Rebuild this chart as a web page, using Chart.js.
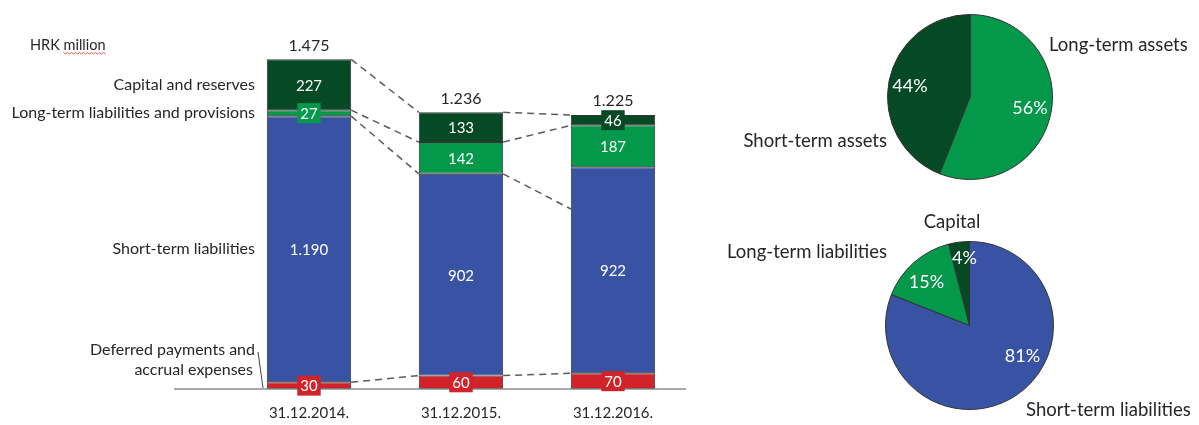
<!DOCTYPE html>
<html>
<head>
<meta charset="utf-8">
<script src="https://cdn.jsdelivr.net/npm/chart.js@4.4.1/dist/chart.umd.min.js"></script>
<style>
  body { margin: 0; background: #fff; }
  #wrap { position: relative; width: 1199px; height: 425px; overflow: hidden; }
  canvas { position: absolute; }
</style>
</head>
<body>
<div id="wrap">
  <canvas id="barChart" style="left:0;top:0;width:700px;height:425px"></canvas>
  <canvas id="assetsPie" style="left:700px;top:0;width:499px;height:212px"></canvas>
  <canvas id="liabPie" style="left:700px;top:212px;width:499px;height:213px"></canvas>
</div>
<script>
const dates = ["31.12.2014.", "31.12.2015.", "31.12.2016."];
const seriesNames = [
  "Deferred payments and accrual expenses",
  "Short-term liabilities",
  "Long-term liabilities and provisions",
  "Capital and reserves",
];
const deferred = [30, 60, 70];
const shortTerm = [1190, 902, 922];
const longTerm = [27, 142, 187];
const capital = [227, 133, 46];
const totals = [1475, 1236, 1225];
// where the dashed short-term line lands on the next bar (as drawn in the original)
const shortTermLinkEnd = [962, 805];

const assetLabels = ["Long-term assets", "Short-term assets"];
const assetShares = [56, 44];
const liabLabels = ["Short-term liabilities", "Long-term liabilities", "Capital"];
const liabShares = [81, 15, 4];

const darkGreen = "#054a25";
const green = "#03984a";
const blue = "#3953a4";
const red = "#d2232a";
const edge = "#333333";
const textColor = "#262626";
const FONT = "Lato, 'Open Sans', sans-serif";

function fmt(n) {
  return n.toString().replace(/\B(?=(\d{3})+(?!\d))/g, ".");
}

const seriesValues = [deferred, shortTerm, longTerm, capital];
const seriesColors = [red, blue, green, darkGreen];
// small segments get a coloured box behind their label
const boxed = [true, false, false, false];

const barOverlay = {
  id: "barOverlay",
  afterDatasetsDraw(chart) {
    const ctx = chart.ctx;
    const y = chart.scales.y;
    const metas = chart.data.datasets.map((d, i) => chart.getDatasetMeta(i));

    // cumulative tops per bar
    const cum = dates.map((d, i) => {
      let s = 0;
      return seriesValues.map((arr) => (s += arr[i]));
    });

    ctx.save();
    // dashed connectors
    ctx.strokeStyle = "#5a5a5a";
    ctx.lineWidth = 1.5;
    ctx.setLineDash([7, 5]);
    for (let i = 0; i < dates.length - 1; i++) {
      const b1 = metas[0].data[i];
      const b2 = metas[0].data[i + 1];
      const x1 = b1.x + b1.width / 2;
      const x2 = b2.x - b2.width / 2;
      for (let lvl = 0; lvl < 4; lvl++) {
        let v2 = cum[i + 1][lvl];
        if (lvl === 1) v2 = shortTermLinkEnd[i];
        ctx.beginPath();
        ctx.moveTo(x1, y.getPixelForValue(cum[i][lvl]));
        ctx.lineTo(x2, y.getPixelForValue(v2));
        ctx.stroke();
      }
    }
    ctx.setLineDash([]);

    // baseline
    const base = y.getPixelForValue(0);
    ctx.strokeStyle = "#8c8c8c";
    ctx.lineWidth = 1.5;
    ctx.beginPath();
    ctx.moveTo(174, base);
    ctx.lineTo(686, base);
    ctx.stroke();

    // segment labels
    ctx.textAlign = "center";
    ctx.textBaseline = "middle";
    ctx.font = "15px " + FONT;
    seriesValues.forEach((arr, s) => {
      metas[s].data.forEach((bar, i) => {
        const cy = (bar.y + bar.base) / 2;
        const txt = fmt(arr[i]);
        const small = Math.abs(bar.base - bar.y) < 16;
        if (small || boxed[s]) {
          const w = ctx.measureText(txt).width + 6;
          ctx.fillStyle = seriesColors[s];
          ctx.fillRect(bar.x - w / 2, cy - 10, w, 20);
        }
        ctx.fillStyle = "#ffffff";
        ctx.fillText(txt, bar.x, cy + 1);
      });
    });

    // totals
    ctx.fillStyle = textColor;
    ctx.font = "16px " + FONT;
    totals.forEach((t, i) => {
      const bar = metas[0].data[i];
      ctx.fillText(fmt(t), bar.x, y.getPixelForValue(cum[i][3]) - 14);
    });

    // dates
    ctx.font = "15px " + FONT;
    dates.forEach((d, i) => {
      ctx.fillText(d, metas[0].data[i].x, 413);
    });

    // series names next to the first bar
    ctx.textAlign = "right";
    ctx.font = "16px " + FONT;
    for (let s = 1; s < 4; s++) {
      const bar = metas[s].data[0];
      ctx.fillText(seriesNames[s], 255, (bar.y + bar.base) / 2);
    }
    ctx.fillText("Deferred payments and", 255, 350);
    ctx.fillText("accrual expenses", 253, 370);
    ctx.strokeStyle = "#404040";
    ctx.lineWidth = 1;
    ctx.beginPath();
    ctx.moveTo(258, 352);
    ctx.lineTo(263, base - 1);
    ctx.stroke();

    // unit note
    ctx.textAlign = "left";
    ctx.font = "14.5px " + FONT;
    ctx.fillText("HRK million", 30, 45);
    const mStart = 30 + ctx.measureText("HRK ").width;
    const mEnd = 30 + ctx.measureText("HRK million").width;
    ctx.strokeStyle = "#e03030";
    ctx.lineWidth = 0.8;
    ctx.beginPath();
    for (let px = mStart, k = 0; px <= mEnd; px += 2, k++) {
      const py = 53 + (k % 2 ? 1 : -0.5);
      if (k === 0) ctx.moveTo(px, py);
      else ctx.lineTo(px, py);
    }
    ctx.stroke();
    ctx.restore();
  },
};

new Chart(document.getElementById("barChart"), {
  type: "bar",
  data: {
    labels: dates,
    datasets: seriesValues.map((arr, s) => ({
      label: seriesNames[s],
      data: arr,
      backgroundColor: seriesColors[s],
      borderColor: edge,
      borderWidth: 1,
      borderSkipped: false,
      categoryPercentage: 1,
      barPercentage: 0.555,
    })),
  },
  options: {
    responsive: false,
    animation: false,
    layout: { padding: { left: 233, right: 11, top: 20, bottom: 36 } },
    plugins: { legend: { display: false }, tooltip: { enabled: false } },
    scales: {
      x: { stacked: true, display: false },
      y: { stacked: true, display: false, min: 0, max: 1650 },
    },
  },
  plugins: [barOverlay],
});

function pieOverlay(names, namePos, pctOffsets) {
  return {
    id: "pieOverlay",
    afterDatasetsDraw(chart) {
      const ctx = chart.ctx;
      const arc = chart.getDatasetMeta(0).data[0];
      const cx = arc.x;
      const cy = arc.y;
      const values = chart.data.datasets[0].data;
      ctx.save();
      ctx.textBaseline = "middle";
      ctx.font = "18px " + FONT;
      ctx.fillStyle = "#ffffff";
      ctx.textAlign = "center";
      values.forEach((v, i) => {
        ctx.fillText(v + "%", cx + pctOffsets[i][0], cy + pctOffsets[i][1]);
      });
      ctx.fillStyle = textColor;
      ctx.font = "18.5px " + FONT;
      names.forEach((n, i) => {
        ctx.textAlign = namePos[i][2];
        ctx.fillText(n, namePos[i][0], namePos[i][1]);
      });
      ctx.restore();
    },
  };
}

new Chart(document.getElementById("assetsPie"), {
  type: "pie",
  data: {
    labels: assetLabels,
    datasets: [{ data: assetShares, backgroundColor: [green, darkGreen], borderColor: edge, borderWidth: 1 }],
  },
  options: {
    responsive: false,
    animation: false,
    layout: { padding: { left: 187, right: 146, top: 14, bottom: 32 } },
    plugins: { legend: { display: false }, tooltip: { enabled: false } },
  },
  plugins: [
    pieOverlay(
      assetLabels,
      [[349, 45, "left"], [187, 141, "right"]],
      [[60, 11], [-60, -11]]
    ),
  ],
});

new Chart(document.getElementById("liabPie"), {
  type: "pie",
  data: {
    labels: liabLabels,
    datasets: [{ data: liabShares, backgroundColor: [blue, green, darkGreen], borderColor: edge, borderWidth: 1 }],
  },
  options: {
    responsive: false,
    animation: false,
    layout: { padding: { left: 185, right: 145, top: 29, bottom: 15 } },
    plugins: { legend: { display: false }, tooltip: { enabled: false } },
  },
  plugins: [
    pieOverlay(
      liabLabels,
      [[326, 198, "left"], [187, 40, "right"], [252, 10, "center"]],
      [[53, 31], [-43, -43], [-5, -67]]
    ),
  ],
});
</script>
</body>
</html>
